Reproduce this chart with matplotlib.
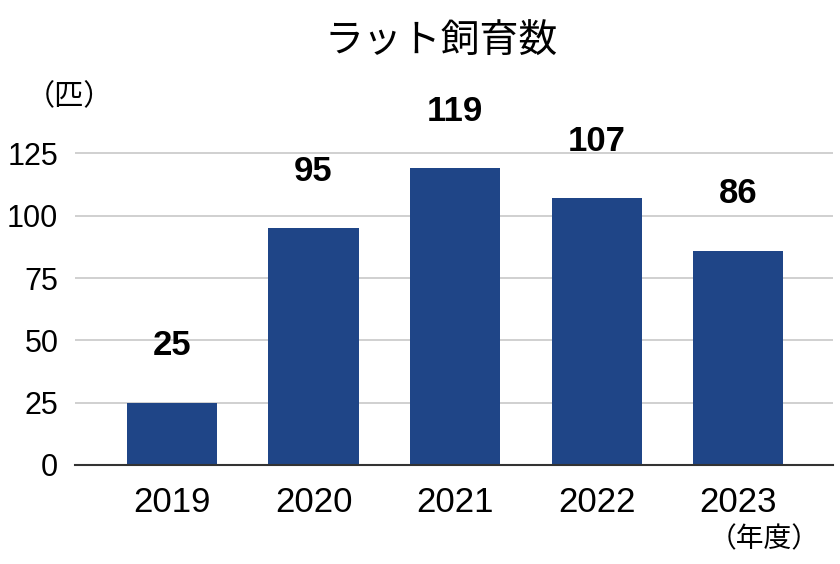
import matplotlib
matplotlib.use('Agg')
import matplotlib.pyplot as plt

# データ
years = ['2019', '2020', '2021', '2022', '2023']
rats = [25, 95, 119, 107, 86]
yticks = [0, 25, 50, 75, 100, 125]

plt.rcParams['font.family'] = ['Liberation Sans', 'Noto Sans CJK JP']

fig = plt.figure(figsize=(8.4, 5.64), dpi=100)
ax = fig.add_axes([75 / 840, 99 / 564, 758 / 840, (465 - 116) / 564])

x = range(len(years))
ax.bar(x, rats, width=0.636, color='#1f4587', zorder=3)

for i, v in enumerate(rats):
    ax.annotate(str(v), (i, v), xytext=(0, 41), textcoords='offset points',
                ha='center', va='center', fontsize=25, fontweight='bold')

ax.set_xlim(-0.685, 4.67)
ax.set_ylim(0, 140)
ax.set_yticks(yticks)
ax.set_xticks(list(x))
ax.set_xticklabels(years)
ax.tick_params(axis='y', length=0, labelsize=22, pad=12)
ax.tick_params(axis='x', length=0, labelsize=25, pad=15)

ax.grid(axis='y', color='#c8c8c8', linewidth=1.2, zorder=0)
for s in ['top', 'right', 'left']:
    ax.spines[s].set_visible(False)
ax.spines['bottom'].set_color('#333333')
ax.spines['bottom'].set_linewidth(1.5)
ax.spines['bottom'].set_zorder(4)

fig.text(441 / 840, 1 - 43 / 564, 'ラット飼育数', ha='center', va='center', fontsize=28)
fig.text(69 / 840, 1 - 97 / 564, '（匹）', ha='center', va='center', fontsize=21)
fig.text(764 / 840, 1 - 540 / 564, '（年度）', ha='center', va='center', fontsize=20)

fig.savefig('out.png', dpi=100)
